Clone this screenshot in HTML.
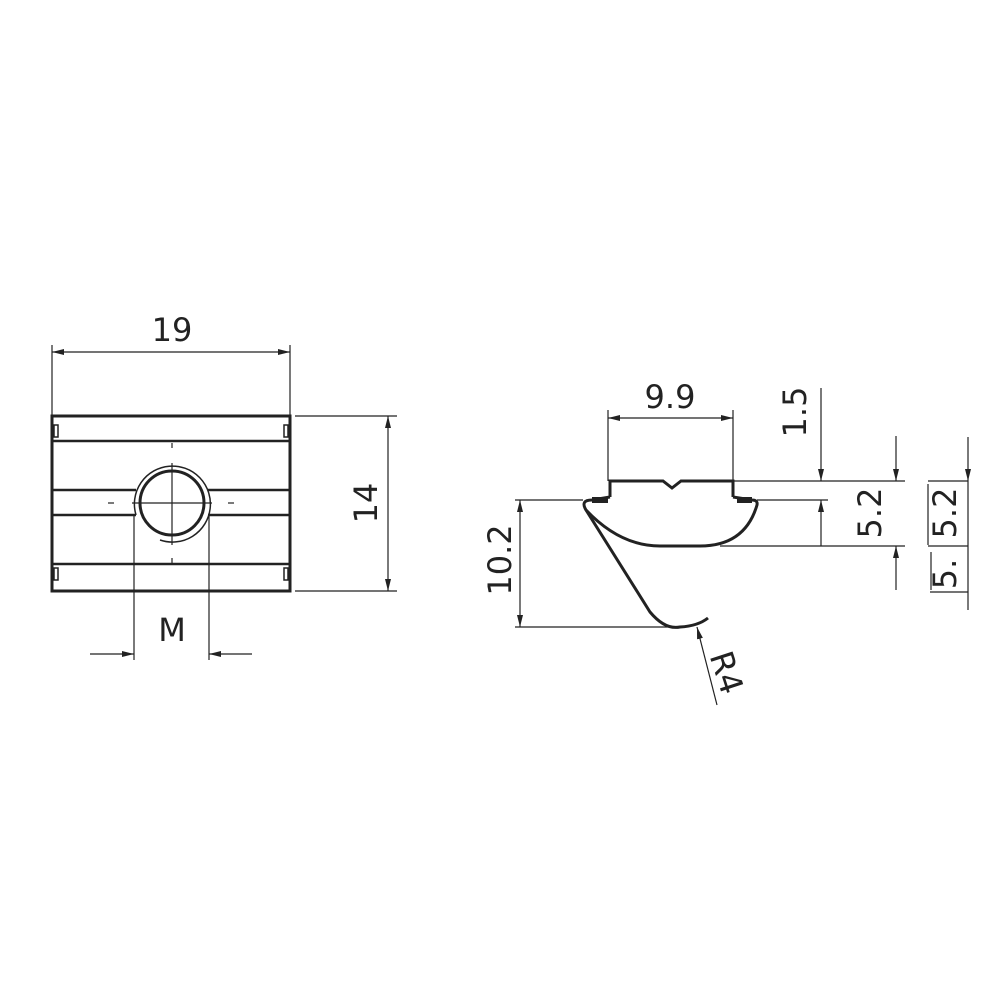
<!DOCTYPE html>
<html><head><meta charset="utf-8"><style>
html,body{margin:0;padding:0;background:#fff}
svg{display:block}
text{font-family:"DejaVu Sans","Liberation Sans",sans-serif;fill:#222}
</style></head><body>
<svg width="1000" height="1000" viewBox="0 0 1000 1000" xmlns="http://www.w3.org/2000/svg">
<defs>
<marker id="a" viewBox="0 0 12 6" refX="12" refY="3" markerWidth="12" markerHeight="6" markerUnits="userSpaceOnUse" orient="auto-start-reverse"><path d="M0,0 L12,3 L0,6 z" fill="#222"/></marker>
</defs>
<g stroke="#222" fill="none">
<!-- left view -->
<rect x="52" y="416" width="238" height="175" stroke-width="3"/>
<g stroke-width="2.5">
<line x1="52" y1="441" x2="290" y2="441"/>
<line x1="52" y1="490" x2="136" y2="490"/><line x1="208" y1="490" x2="290" y2="490"/>
<line x1="52" y1="515" x2="136" y2="515"/><line x1="208" y1="515" x2="290" y2="515"/>
<line x1="52" y1="564" x2="290" y2="564"/>
</g>
<g stroke-width="1.5">
<rect x="54" y="425" width="4" height="12"/><rect x="284" y="425" width="4" height="12"/>
<rect x="54" y="568" width="4" height="12"/><rect x="284" y="568" width="4" height="12"/>
</g>
<circle cx="172" cy="503" r="32" stroke-width="3"/>
<path d="M136,515 A38,38 0 1 1 160,540" stroke-width="1.5"/>
<g stroke-width="1.2">
<line x1="172" y1="463" x2="172" y2="545"/>
<line x1="132" y1="503" x2="212" y2="503"/>
<line x1="172" y1="443" x2="172" y2="448"/><line x1="172" y1="558" x2="172" y2="563"/>
<line x1="108" y1="503" x2="114" y2="503"/><line x1="228" y1="503" x2="234" y2="503"/>
<line x1="52" y1="345" x2="52" y2="416"/><line x1="290" y1="345" x2="290" y2="416"/>
<line x1="52" y1="352" x2="290" y2="352" marker-start="url(#a)" marker-end="url(#a)"/>
<line x1="295" y1="416" x2="397" y2="416"/><line x1="295" y1="591" x2="397" y2="591"/>
<line x1="388" y1="416" x2="388" y2="591" marker-start="url(#a)" marker-end="url(#a)"/>
<line x1="134" y1="515" x2="134" y2="660"/><line x1="209" y1="515" x2="209" y2="660"/>
<line x1="90" y1="654" x2="134" y2="654" marker-end="url(#a)"/>
<line x1="252" y1="654" x2="209" y2="654" marker-end="url(#a)"/>
</g>
<!-- right view -->
<path d="M610,497 L610,481 L663,481 L672,488 L681,481 L733,481 L733,497" stroke-width="3"/>
<path d="M592,500 L608,500 M737,500 L752,500" stroke-width="6"/>
<path d="M610,497 L592,500 Q580,500 586,510 Q620,546 660,546 L700,546 Q745,546 757,505 Q758,500 752,500 L733,497" stroke-width="3"/>
<path d="M586,510 L650,612 Q665,630 680,627 Q698,626 708,618" stroke-width="3"/>
<g stroke-width="1.2">
<line x1="608" y1="410" x2="608" y2="481"/><line x1="733" y1="410" x2="733" y2="481"/>
<line x1="608" y1="418" x2="733" y2="418" marker-start="url(#a)" marker-end="url(#a)"/>
<line x1="515" y1="500" x2="583" y2="500"/><line x1="515" y1="627" x2="680" y2="627"/>
<line x1="520" y1="500" x2="520" y2="627" marker-start="url(#a)" marker-end="url(#a)"/>
<line x1="717" y1="705" x2="697" y2="627" marker-end="url(#a)"/>
<line x1="733" y1="481" x2="905" y2="481"/>
<line x1="757" y1="500" x2="828" y2="500"/>
<line x1="720" y1="546" x2="905" y2="546"/>
<line x1="821" y1="388" x2="821" y2="481" marker-end="url(#a)"/>
<line x1="821" y1="546" x2="821" y2="500" marker-end="url(#a)"/>
<line x1="896" y1="436" x2="896" y2="481" marker-end="url(#a)"/>
<line x1="896" y1="590" x2="896" y2="546" marker-end="url(#a)"/>
<line x1="928" y1="481" x2="968" y2="481"/><line x1="928" y1="546" x2="968" y2="546"/>
<line x1="930" y1="592" x2="968" y2="592"/>
<line x1="968" y1="437" x2="968" y2="481" marker-end="url(#a)"/>
<line x1="968" y1="481" x2="968" y2="610"/>
<line x1="928" y1="484" x2="928" y2="545"/>
<line x1="931" y1="552" x2="931" y2="590"/>
</g>
</g>
<g font-size="32">
<text x="172" y="341" text-anchor="middle">19</text>
<text x="172" y="641" text-anchor="middle">M</text>
<text x="670" y="408" text-anchor="middle">9.9</text>
<text transform="translate(377,503) rotate(-90)" text-anchor="middle">14</text>
<text transform="translate(511,560) rotate(-90)" text-anchor="middle">10.2</text>
<text transform="translate(806,412) rotate(-90)" text-anchor="middle">1.5</text>
<text transform="translate(881,513) rotate(-90)" text-anchor="middle">5.2</text>
<text transform="translate(956,513) rotate(-90)" text-anchor="middle">5.2</text>
<text transform="translate(956,574) rotate(-90)" text-anchor="middle">5.</text>
<text transform="translate(716,676) rotate(72)" text-anchor="middle">R4</text>
</g>
</svg>
</body></html>
